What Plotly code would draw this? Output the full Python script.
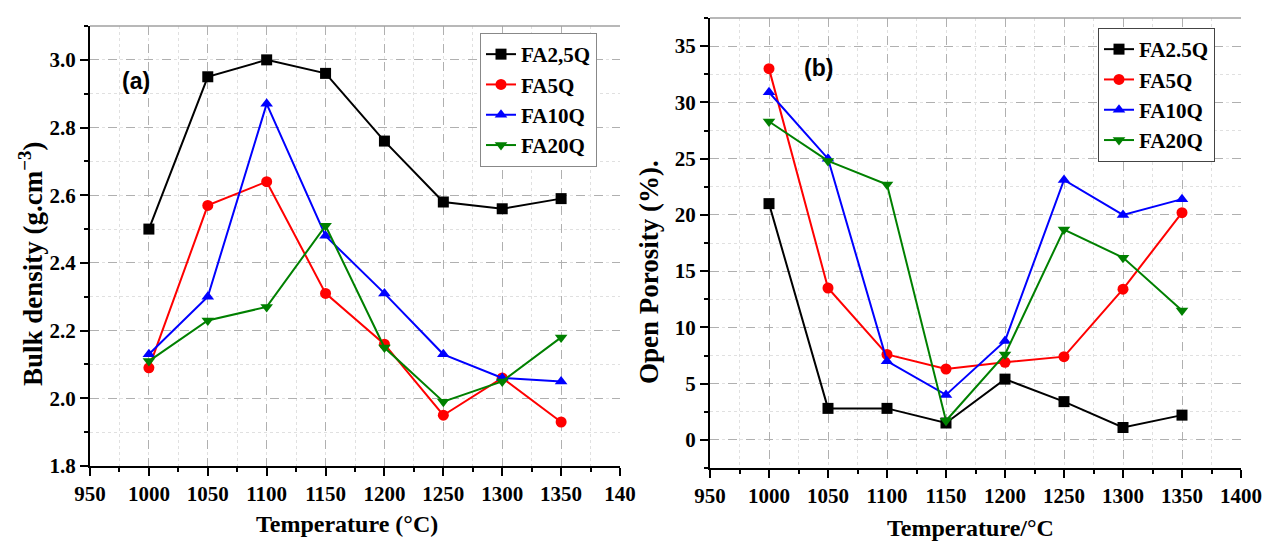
import plotly.graph_objects as go

# Sintering temperatures (°C)
temperature = [1000, 1050, 1100, 1150, 1200, 1250, 1300, 1350]

# (a) Bulk density (g.cm-3)
density_names = ["FA2,5Q", "FA5Q", "FA10Q", "FA20Q"]
density_fa2_5q = [2.50, 2.95, 3.00, 2.96, 2.76, 2.58, 2.56, 2.59]
density_fa5q = [2.09, 2.57, 2.64, 2.31, 2.16, 1.95, 2.06, 1.93]
density_fa10q = [2.13, 2.30, 2.87, 2.48, 2.31, 2.13, 2.06, 2.05]
density_fa20q = [2.11, 2.23, 2.27, 2.51, 2.15, 1.99, 2.05, 2.18]

# (b) Open porosity (%)
porosity_names = ["FA2.5Q", "FA5Q", "FA10Q", "FA20Q"]
porosity_fa2_5q = [21.0, 2.8, 2.8, 1.5, 5.4, 3.4, 1.1, 2.2]
porosity_fa5q = [33.0, 13.5, 7.6, 6.3, 6.9, 7.4, 13.4, 20.2]
porosity_fa10q = [30.9, 25.0, 7.0, 4.0, 8.8, 23.1, 20.0, 21.4]
porosity_fa20q = [28.3, 24.8, 22.7, 1.7, 7.6, 18.7, 16.2, 11.5]

# Axis ticks
x_tickvals = [950, 1000, 1050, 1100, 1150, 1200, 1250, 1300, 1350, 1400]
x_ticktext_a = ["950", "1000", "1050", "1100", "1150", "1200", "1250", "1300", "1350", "140"]
x_ticktext_b = ["950", "1000", "1050", "1100", "1150", "1200", "1250", "1300", "1350", "1400"]
y_tickvals_a = [1.8, 2.0, 2.2, 2.4, 2.6, 2.8, 3.0]
y_tickvals_b = [0, 5, 10, 15, 20, 25, 30, 35]

colors = ["#000000", "#FF0000", "#0000FF", "#008000"]
symbols = ["square", "circle", "triangle-up", "triangle-down"]

W, H = 1278, 544
SERIF = "Liberation Serif"
SANS = "Liberation Sans"


def px_x(p):
    return p / W


def px_y(p):
    return 1 - p / H


fig = go.Figure()

density_series = [density_fa2_5q, density_fa5q, density_fa10q, density_fa20q]
for name, ys, c, s in zip(density_names, density_series, colors, symbols):
    fig.add_trace(go.Scatter(
        x=temperature, y=ys, name=name, mode="lines+markers",
        line=dict(color=c, width=2), marker=dict(symbol=s, size=11, color=c),
        xaxis="x", yaxis="y", legend="legend",
    ))

porosity_series = [porosity_fa2_5q, porosity_fa5q, porosity_fa10q, porosity_fa20q]
for name, ys, c, s in zip(porosity_names, porosity_series, colors, symbols):
    fig.add_trace(go.Scatter(
        x=temperature, y=ys, name=name, mode="lines+markers",
        line=dict(color=c, width=2), marker=dict(symbol=s, size=11, color=c),
        xaxis="x2", yaxis="y2", legend="legend2",
    ))

tickfont = dict(family=SERIF, size=21, color="black", weight="bold")
grid_major = dict(showgrid=True, gridcolor="#b0b0b0", gridwidth=1, griddash="dash")


def xaxis(domain, anchor, ticktext):
    return dict(
        domain=domain, anchor=anchor, range=[950, 1400],
        tickvals=x_tickvals, ticktext=ticktext, tickfont=tickfont,
        showline=True, linecolor="black", linewidth=2,
        ticks="outside", ticklen=8, tickwidth=2, tickcolor="black",
        zeroline=False, automargin=False, **grid_major,
        minor=dict(dtick=25, tick0=950, ticks="outside", ticklen=4, tickwidth=1.5,
                   tickcolor="black", showgrid=True, gridcolor="#e0e0e0", griddash="dot"),
    )


def yaxis(domain, anchor, rng, tickvals, ticktext, minor_dtick, minor_tick0):
    return dict(
        domain=domain, anchor=anchor, range=rng,
        tickvals=tickvals, ticktext=ticktext, tickfont=tickfont,
        showline=True, linecolor="black", linewidth=2,
        ticks="outside", ticklen=8, tickwidth=2, tickcolor="black",
        zeroline=False, automargin=False, **grid_major,
        minor=dict(dtick=minor_dtick, tick0=minor_tick0, ticks="outside", ticklen=4,
                   tickwidth=1.5, tickcolor="black", showgrid=True,
                   gridcolor="#e0e0e0", griddash="dot"),
    )


legend_common = dict(
    bgcolor="white", borderwidth=1,
    font=dict(family=SERIF, size=21, color="black", weight="bold"),
    tracegroupgap=0, itemwidth=30, xanchor="left", yanchor="top",
)

fig.update_layout(
    width=W, height=H,
    margin=dict(l=0, r=0, t=0, b=0),
    paper_bgcolor="white", plot_bgcolor="white",
    showlegend=True,
    xaxis=xaxis([px_x(90), px_x(620)], "y", x_ticktext_a),
    yaxis=yaxis([px_y(466), px_y(26)], "x", [1.8, 3.1], y_tickvals_a,
                [f"{v:.1f}" for v in y_tickvals_a], 0.1, 1.8),
    xaxis2=xaxis([px_x(710), px_x(1241)], "y2", x_ticktext_b),
    yaxis2=yaxis([px_y(468), px_y(18)], "x2", [-2.5, 37.5], y_tickvals_b,
                 [str(v) for v in y_tickvals_b], 2.5, 0),
    legend=dict(x=px_x(480), y=px_y(33), bordercolor="#888888", **legend_common),
    legend2=dict(x=px_x(1098), y=px_y(28), bordercolor="#444444", **legend_common),
)

# Light top frame lines
for x0, x1, y in [(90, 620, 26), (710, 1241, 18)]:
    fig.add_shape(type="line", xref="paper", yref="paper",
                  x0=px_x(x0), x1=px_x(x1), y0=px_y(y), y1=px_y(y),
                  line=dict(color="#a0a0a0", width=1.5))

xtitle_font = dict(family=SERIF, size=24, color="black", weight="bold")
ytitle_font = dict(family=SERIF, size=27, color="black", weight="bold")
label_font = dict(family=SANS, size=23, color="black", weight="bold")
annotations = [
    dict(text="Temperature (°C)", x=px_x(347), y=px_y(524), font=xtitle_font),
    dict(text="Temperature/°C", x=px_x(970), y=px_y(528), font=xtitle_font),
    dict(text="Bulk density (g.cm<sup>−3</sup>)", x=px_x(31), y=px_y(264),
         textangle=-90, font=ytitle_font),
    dict(text="Open Porosity (%).", x=px_x(649), y=px_y(272),
         textangle=-90, font=ytitle_font),
    dict(text="(a)", x=px_x(136), y=px_y(81), font=label_font),
    dict(text="(b)", x=px_x(818), y=px_y(68), font=label_font),
]
for a in annotations:
    fig.add_annotation(xref="paper", yref="paper", showarrow=False,
                       xanchor="center", yanchor="middle", **a)

fig.write_html("out.html")
